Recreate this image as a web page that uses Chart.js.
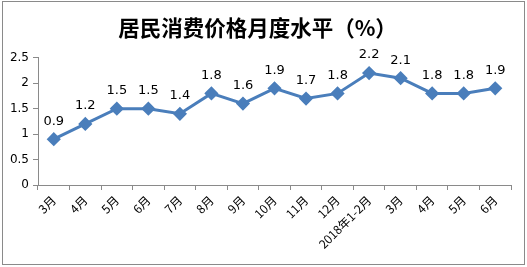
<!DOCTYPE html>
<html lang="zh">
<head>
  <meta charset="UTF-8">
  <title>居民消费价格月度水平</title>
  <script src="https://cdn.jsdelivr.net/npm/chart.js"></script>
  <style>
    body { margin: 0; background: #fff; }
    #box { position: absolute; left: 2px; top: 1px; width: 521px; height: 262px; border: 1px solid #8a8a8a; }
    #wrap { position: absolute; left: 0; top: 0; width: 527px; height: 267px; }
  </style>
</head>
<body>
  <div id="box"></div>
  <div id="wrap"><canvas id="cpiChart" width="527" height="267"></canvas></div>

  <script>
    const months = ['3月', '4月', '5月', '6月', '7月', '8月', '9月', '10月', '11月', '12月',
                    '2018年1-2月', '3月', '4月', '5月', '6月'];
    const cpiLevel = [0.9, 1.2, 1.5, 1.5, 1.4, 1.8, 1.6, 1.9, 1.7, 1.8, 2.2, 2.1, 1.8, 1.8, 1.9];
    const yTicks = [0, 0.5, 1, 1.5, 2, 2.5];

    // draw the value above each point
    const pointLabels = {
      id: 'pointLabels',
      afterDatasetsDraw(chart) {
        const ctx = chart.ctx;
        const meta = chart.getDatasetMeta(0);
        ctx.save();
        ctx.font = '13px "DejaVu Sans", sans-serif';
        ctx.fillStyle = '#000';
        ctx.textAlign = 'center';
        ctx.textBaseline = 'middle';
        meta.data.forEach((pt, i) => {
          ctx.fillText(String(cpiLevel[i]), pt.x, pt.y - 18);
        });
        ctx.restore();
      }
    };

    const ctx = document.getElementById('cpiChart').getContext('2d');
    new Chart(ctx, {
      type: 'line',
      data: {
        labels: months,
        datasets: [{
          data: cpiLevel,
          borderColor: '#4a7ebb',
          backgroundColor: '#4a7ebb',
          borderWidth: 3,
          pointStyle: 'rectRot',
          pointRadius: 5,
          tension: 0
        }]
      },
      options: {
        responsive: false,
        animation: false,
        layout: { padding: { left: 4, right: 16, top: 0, bottom: 0 } },
        plugins: {
          legend: { display: false },
          tooltip: { enabled: false },
          title: {
            display: true,
            text: '居民消费价格月度水平（%）',
            color: '#000',
            font: { family: '"Noto Sans CJK SC"', size: 21.5, weight: 'bold' },
            padding: { top: 15, bottom: 17 }
          }
        },
        scales: {
          x: {
            offset: true,
            grid: { offset: true, drawOnChartArea: false, tickLength: 5, color: '#8a8a8a' },
            border: { color: '#8a8a8a' },
            afterFit(scale) { scale.height = 82; },
            ticks: {
              autoSkip: false, minRotation: 45, maxRotation: 45, color: '#000',
              font: { family: '"Noto Sans CJK SC"', size: 12 }, padding: 3
            }
          },
          y: {
            min: 0, max: 2.5,
            afterBuildTicks(scale) { scale.ticks = yTicks.map(v => ({ value: v })); },
            afterFit(scale) { scale.width = 34; },
            grid: { drawOnChartArea: false, tickLength: 5, color: '#8a8a8a' },
            border: { color: '#8a8a8a' },
            ticks: {
              color: '#000', font: { family: '"DejaVu Sans"', size: 12 }, padding: 4,
              callback: v => String(v)
            }
          }
        }
      },
      plugins: [pointLabels]
    });
  </script>
</body>
</html>
